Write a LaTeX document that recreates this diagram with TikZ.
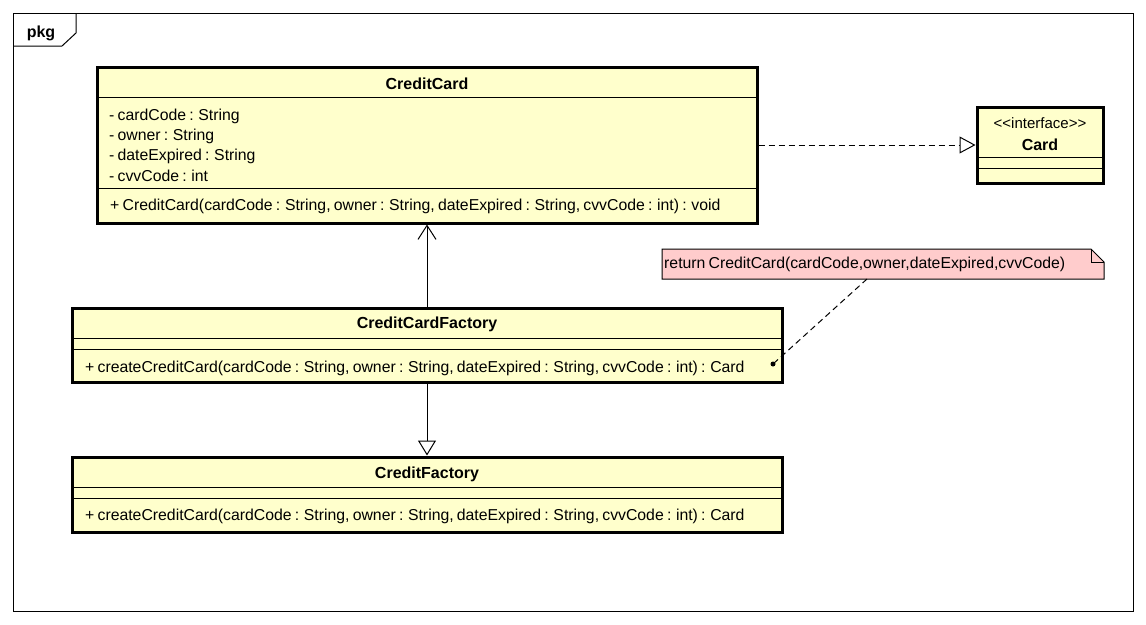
\documentclass[tikz,border=0pt]{standalone}
\usepackage{fontspec}
\setmainfont{Liberation Sans}
\usetikzlibrary{arrows.meta}
\definecolor{classfill}{HTML}{FFFFCC}
\definecolor{notefill}{HTML}{FFCCCC}
\newcommand{\umltextfont}{\fontsize{15.8}{19}\selectfont\spaceskip=3.2pt\relax}
\tikzset{
  classbox/.style={draw, line width=3pt, fill=classfill, rectangle, inner sep=0pt},
  sepline/.style={line width=1pt},
  thinline/.style={line width=1pt},
  txt/.style={anchor=base west, inner sep=0pt, font=\umltextfont},
  ttl/.style={anchor=base, inner sep=0pt, font=\fontsize{16}{19}\selectfont\bfseries},
  dashline/.style={line width=1pt, dash pattern=on 6pt off 4pt},
}
\begin{document}
\begin{tikzpicture}[x=1pt,y=-1pt]
\useasboundingbox (0,0) rectangle (1146,624);
\fill[white] (0,0) rectangle (1146,624);

% package frame
\draw[thinline] (13,13) rectangle (1133,611);
\draw[thinline] (13,46) -- (62,46) -- (76,33) -- (76,13);
\node[ttl] (pkg) at (41,37) {pkg};

% CreditCard
\node[classbox, minimum width=660pt, minimum height=156pt] (cc) at (427,145) {};
\draw[sepline] (97,97) -- (757,97);
\draw[sepline] (97,188) -- (757,188);
\node[ttl] (cctitle) at (427,89) {CreditCard};
\node[txt] (a1) at (109,120) {- cardCode : String};
\node[txt] (a2) at (109,140) {- owner : String};
\node[txt] (a3) at (109,160) {- dateExpired : String};
\node[txt] (a4) at (109,181) {- cvvCode : int};
\node[txt] (m1) at (110,210) {+ CreditCard(cardCode : String, owner : String, dateExpired : String, cvvCode : int) : void};

% Card interface
\node[classbox, minimum width=126pt, minimum height=76pt] (card) at (1040,145) {};
\draw[sepline] (977,157) -- (1103,157);
\draw[sepline] (977,168) -- (1103,168);
\node[anchor=base, inner sep=0pt, font=\fontsize{15}{18}\selectfont] (stereo) at (1040,128) {{<}{<}interface{>}{>}};
\node[ttl] (cardtitle) at (1040,150) {Card};

% CreditCardFactory
\node[classbox, minimum width=710pt, minimum height=74pt] (ccf) at (427,345) {};
\draw[sepline] (72,338) -- (782,338);
\draw[sepline] (72,349) -- (782,349);
\node[ttl] (ccftitle) at (427,328) {CreditCardFactory};
\node[txt] (m2) at (85,372) {+ createCreditCard(cardCode : String, owner : String, dateExpired : String, cvvCode : int) : Card};

% CreditFactory
\node[classbox, minimum width=710pt, minimum height=75pt] (cf) at (427,494.5) {};
\draw[sepline] (72,487) -- (782,487);
\draw[sepline] (72,498) -- (782,498);
\node[ttl] (cftitle) at (427,478) {CreditFactory};
\node[txt] (m3) at (85,520) {+ createCreditCard(cardCode : String, owner : String, dateExpired : String, cvvCode : int) : Card};

% note
\node[minimum width=442pt, minimum height=30pt, inner sep=0pt, outer sep=0pt] (note) at (883,264) {};
\draw[thinline, fill=notefill] (note.north west) -- (1091,249) -- (1104,262) -- (note.south east) -- (note.south west) -- cycle;
\draw[thinline] (1091,249) -- (1091,262) -- (1104,262);
\node[txt] (notetext) at (664,268) {return CreditCard(cardCode,owner,dateExpired,cvvCode)};

% connectors
\draw[dashline, -{Triangle[open, length=16pt, width=17pt, line width=1pt]}] (cc.east) -- (card.west);
\draw[thinline, -{Straight Barb[length=14pt, width=18pt, line width=1pt]}] (ccf.north) -- (cc.south);
\draw[thinline, -{Triangle[open, length=15pt, width=18pt, line width=1pt]}] (ccf.south) -- (cf.north);
\coordinate (noteattach) at (867,279);
\coordinate (dot) at (773,364);
\draw[dashline] (noteattach) -- (dot);
\fill (dot) circle (2.5pt);
\end{tikzpicture}
\end{document}
